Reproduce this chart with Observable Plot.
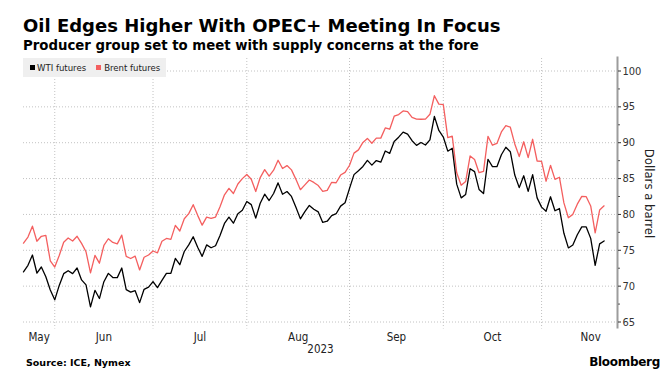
<!DOCTYPE html>
<html><head><meta charset="utf-8">
<script src="https://cdn.jsdelivr.net/npm/d3@7"></script>
<script src="https://cdn.jsdelivr.net/npm/@observablehq/plot@0.6"></script>
<style>
html,body{margin:0;padding:0;background:#fff;}
#wrap{position:relative;width:667px;height:381px;overflow:hidden;background:#fff;font-family:"DejaVu Sans",sans-serif;}
.t{position:absolute;white-space:nowrap;color:#000;}
#title{left:23px;top:16.8px;font-size:18px;line-height:18px;font-weight:bold;}
#subtitle{left:23px;top:39.3px;font-size:13.3px;line-height:13.3px;font-weight:bold;}
#legend{position:absolute;left:23px;top:58px;width:143px;height:19px;background:#efefef;display:flex;align-items:center;font-family:"DejaVu Sans Condensed","DejaVu Sans",sans-serif;font-stretch:condensed;font-size:9.5px;line-height:9.5px;color:#222;white-space:nowrap;}
.sw{display:inline-block;width:5px;height:5px;}
#source{left:26px;top:358px;font-size:9.5px;line-height:9.5px;font-weight:bold;}
#brand{right:7px;top:356.3px;font-size:12px;line-height:12px;font-weight:bold;letter-spacing:-0.3px;}
#chart{position:absolute;left:0;top:56px;}
</style></head>
<body>
<div id="wrap">
  <div id="title" class="t">Oil Edges Higher With OPEC+ Meeting In Focus</div>
  <div id="subtitle" class="t">Producer group set to meet with supply concerns at the fore</div>
  <div id="chart"></div>
  <div id="legend"></div>
  <div id="source" class="t">Source: ICE, Nymex</div>
  <div id="brand" class="t">Bloomberg</div>
</div>
<script>
// ---- data ----
const START = "2023-05-22";      // first trading day shown
const END = "2023-11-20";        // last trading day shown
const CAL_END = "2023-11-30";    // end of last calendar month (for month label placement)
const seriesNames = ["WTI futures", "Brent futures"];
const seriesColors = ["#000000", "#f45f5f"];
const monthNames = ["May", "Jun", "Jul", "Aug", "Sep", "Oct", "Nov"];
const yearLabel = "2023";
const axisTitle = "Dollars a barrel";
const yTicks = [65, 70, 75, 80, 85, 90, 95, 100];
const yMinorTicks = [67.5, 72.5, 77.5, 82.5, 87.5, 92.5, 97.5];

const wti = [71.99,72.91,74.34,71.83,72.67,71.3,69.46,68.09,
70.10,71.74,72.15,71.74,72.53,70.87,70.17,67.12,69.42,68.27,70.62,71.78,71.2,71.19,72.53,69.51,69.16,69.37,67.70,69.56,69.86,70.64,
69.79,70.8,71.79,71.80,73.86,72.99,74.83,75.75,76.89,75.42,74.15,75.75,75.35,75.63,77.07,78.74,79.63,78.78,80.09,80.58,81.80,
81.37,79.49,81.55,82.82,81.94,82.92,84.40,82.82,83.19,82.51,80.99,79.38,80.39,81.25,80.72,80.35,78.89,79.05,79.83,80.10,81.16,81.63,83.63,
85.55,86.1,86.69,87.54,86.87,87.51,87.29,88.84,88.52,90.16,90.77,91.48,91.20,90.28,89.63,90.03,89.68,90.39,93.68,91.71,90.79,
88.82,89.23,84.22,82.31,82.79,86.38,85.97,83.49,82.91,87.69,86.66,86.66,88.32,89.37,88.75,85.49,83.74,85.39,83.21,85.54,82.31,81.02,
80.44,82.46,80.51,80.82,77.37,75.33,75.74,77.17,78.26,78.26,76.66,72.90,75.89,76.3];

const brent = [75.99,76.84,78.36,76.26,76.95,77.07,73.54,72.66,
74.28,76.13,76.71,76.29,76.95,75.96,74.79,71.84,74.29,73.20,75.67,76.61,76.09,75.90,77.12,74.14,73.85,74.18,72.26,74.03,74.34,74.90,
74.65,76.25,76.65,76.52,78.47,77.69,79.40,80.11,81.36,79.87,78.50,79.63,79.46,79.64,81.07,82.74,83.64,82.92,84.24,84.99,85.56,
84.91,83.20,85.14,86.24,85.34,86.17,87.55,86.40,86.81,86.21,84.89,83.45,84.12,84.80,84.46,84.03,83.21,83.36,84.48,84.42,85.49,85.86,86.86,
88.55,89.00,90.04,90.60,89.92,90.65,90.64,92.06,91.88,93.70,93.93,94.43,94.34,93.53,93.30,93.27,93.29,93.96,96.55,95.38,95.31,
90.71,90.92,85.81,84.07,84.58,88.15,87.65,85.82,86.00,90.89,89.65,89.90,91.50,92.38,92.16,89.83,88.07,90.13,87.93,90.48,87.45,87.41,
84.63,86.85,84.89,85.18,81.61,79.54,80.01,81.43,82.52,82.47,81.18,77.42,80.61,81.2];

// ---- derived ----
const isWeekday = d => d.getUTCDay() !== 0 && d.getUTCDay() !== 6;
const calendar = d3.utcDays(new Date(START), d3.utcDay.offset(new Date(CAL_END), 1)).filter(isWeekday);
const endDate = new Date(END);
const dates = calendar.filter(d => d <= endDate);
const rows = dates.map((d, i) => ({i, date: d, wti: wti[i], brent: brent[i]}));
const months = d3.groups(calendar.map((d, i) => ({d, i})), o => d3.utcMonth(o.d).getTime())
  .map(([k, v]) => ({start: k, last: d3.max(v, o => o.i)}));
const gridIdx = months.slice(0, -1).map(m => m.last);
const monthLabels = months.map((m, k) => ({i: ((k === 0 ? 0 : months[k - 1].last) + m.last) / 2, name: monthNames[k]}));
const xMax = dates.length - 1 + 3;
const yearRow = [{i: xMax / 2, t: yearLabel}];

const font = '"DejaVu Sans Condensed","DejaVu Sans",sans-serif';

const chart = Plot.plot({
  width: 667, height: 300,
  marginLeft: 23, marginRight: 50, marginTop: 14.5, marginBottom: 34.5,
  x: {type: "linear", domain: [0, xMax], axis: null},
  y: {domain: [65, 100], axis: null},
  style: {fontFamily: font, fontStretch: "condensed", background: "transparent", overflow: "visible"},
  marks: [
    Plot.ruleY(yTicks, {stroke: "#c2c2c2", strokeDasharray: "1,2", strokeWidth: 1}),
    Plot.ruleX(gridIdx, {stroke: "#c2c2c2", strokeDasharray: "1,2", strokeWidth: 1, insetTop: -12.5, insetBottom: -7}),
    Plot.line(rows, {x: "i", y: "brent", stroke: seriesColors[1], strokeWidth: 1.3}),
    Plot.line(rows, {x: "i", y: "wti", stroke: seriesColors[0], strokeWidth: 1.3}),
    Plot.ruleX([xMax], {stroke: "#9c9c9c", strokeWidth: 2, insetTop: -14, insetBottom: -7}),
    Plot.axisY(yTicks, {anchor: "right", tickSize: 3, tickPadding: 2, fontSize: 11, color: "#333", label: null}),
    Plot.axisY(yMinorTicks, {anchor: "right", tickSize: 2, tickFormat: () => "", color: "#555", label: null}),
    Plot.text([axisTitle], {text: d => d, frameAnchor: "right", dx: 32, dy: -3, rotate: 90, textAnchor: "middle", lineAnchor: "middle", fontSize: 13, fill: "#222"}),
    Plot.text(monthLabels, {x: "i", text: "name", frameAnchor: "bottom", dy: 15.5, fontSize: 11.5, fill: "#222", lineAnchor: "middle"}),
    Plot.text(yearRow, {x: "i", text: "t", frameAnchor: "bottom", dy: 27, fontSize: 11.5, fill: "#222", lineAnchor: "middle"})
  ]
});
document.getElementById("chart").appendChild(chart);

// legend
const legend = document.getElementById("legend");
seriesNames.forEach((name, k) => {
  const sw = document.createElement("span");
  sw.className = "sw";
  sw.style.background = seriesColors[k];
  sw.style.marginLeft = (k === 0 ? 6.5 : 10) + "px";
  sw.style.marginRight = (k === 0 ? 2.5 : 3) + "px";
  const tx = document.createElement("span");
  tx.textContent = name;
  legend.appendChild(sw);
  legend.appendChild(tx);
});
</script>
</body></html>
